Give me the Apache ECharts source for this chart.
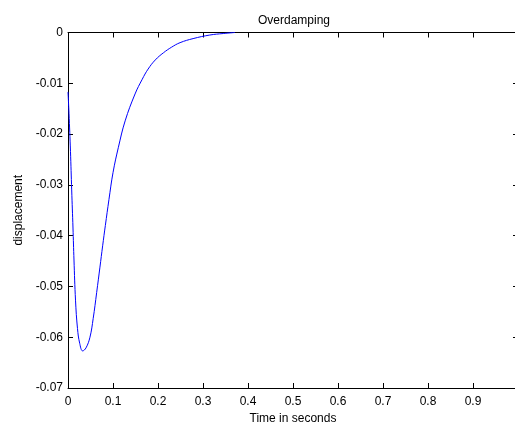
<!DOCTYPE html>
<html>
<head>
<meta charset="utf-8">
<script src="https://cdn.jsdelivr.net/npm/echarts@6/dist/echarts.min.js"></script>
<style>
html,body{margin:0;padding:0;background:#fff;overflow:hidden;}
#chart{width:515px;height:423px;}
</style>
</head>
<body>
<div id="chart"></div>
<script>
const titleText = 'Overdamping';
const xLabel = 'Time in seconds';
const yLabel = 'displacement';
const timeValues = [0, 0.0022, 0.0055, 0.0082, 0.0111, 0.0133, 0.0167, 0.0211, 0.0260, 0.0326, 0.040, 0.0488, 0.056, 0.0637, 0.071, 0.077, 0.083, 0.091, 0.100, 0.112, 0.127, 0.149, 0.165, 0.178, 0.194, 0.212, 0.230, 0.249, 0.278, 0.315, 0.345, 0.371];
const displacementValues = [-0.0117, -0.0159, -0.0234, -0.0310, -0.0385, -0.0448, -0.0527, -0.0583, -0.0612, -0.0627, -0.0621, -0.0600, -0.0563, -0.0512, -0.0462, -0.0420, -0.0380, -0.0329, -0.0276, -0.0226, -0.0174, -0.0121, -0.0092, -0.0072, -0.0054, -0.0040, -0.0029, -0.0020, -0.0012, -0.0005, -0.0002, 0];

const points = timeValues.map((t, i) => [t, displacementValues[i]]);
const font = 'Liberation Sans, Arial, sans-serif';
const chart = echarts.init(document.getElementById('chart'));
const axisCommon = {
  axisLine: {show: true, onZero: false, lineStyle: {color: '#000', width: 1}},
  axisTick: {show: true, inside: true, length: 5, lineStyle: {color: '#000'}},
  splitLine: {show: false}
};
chart.setOption({
  animation: false,
  backgroundColor: '#fff',
  title: {
    text: titleText, left: 253, top: 10,
    textStyle: {fontFamily: font, fontSize: 12, fontWeight: 'normal', color: '#000'}
  },
  grid: {left: 68, right: -3, top: 32.5, bottom: 35, containLabel: false, outerBoundsMode: 'none'},
  xAxis: [
    Object.assign({
      type: 'value', position: 'bottom', min: 0, max: 1, interval: 0.1,
      name: xLabel, nameLocation: 'middle', nameGap: 25,
      nameTextStyle: {fontFamily: font, fontSize: 12, color: '#000'},
      axisLabel: {show: true, fontFamily: font, fontSize: 12, color: '#000', margin: 8,
        formatter: v => (v >= 0.999 ? '' : String(+v.toFixed(1)))}
    }, axisCommon),
    Object.assign({
      type: 'value', position: 'top', min: 0, max: 1, interval: 0.1,
      axisLabel: {show: false}
    }, axisCommon)
  ],
  yAxis: [
    Object.assign({
      type: 'value', position: 'left', min: -0.07, max: 0, interval: 0.01,
      name: yLabel, nameLocation: 'middle', nameGap: 38,
      nameTextStyle: {fontFamily: font, fontSize: 12, color: '#000'},
      axisLabel: {show: true, fontFamily: font, fontSize: 12, color: '#000', margin: 5,
        formatter: v => String(+v.toFixed(2))}
    }, axisCommon),
    Object.assign({
      type: 'value', position: 'right', min: -0.07, max: 0, interval: 0.01,
      axisLabel: {show: false}
    }, axisCommon)
  ],
  series: [{
    type: 'line', data: points, xAxisIndex: 0, yAxisIndex: 0,
    showSymbol: false, smooth: 0.4,
    lineStyle: {color: '#0000ff', width: 1}
  }]
});
</script>
</body>
</html>
